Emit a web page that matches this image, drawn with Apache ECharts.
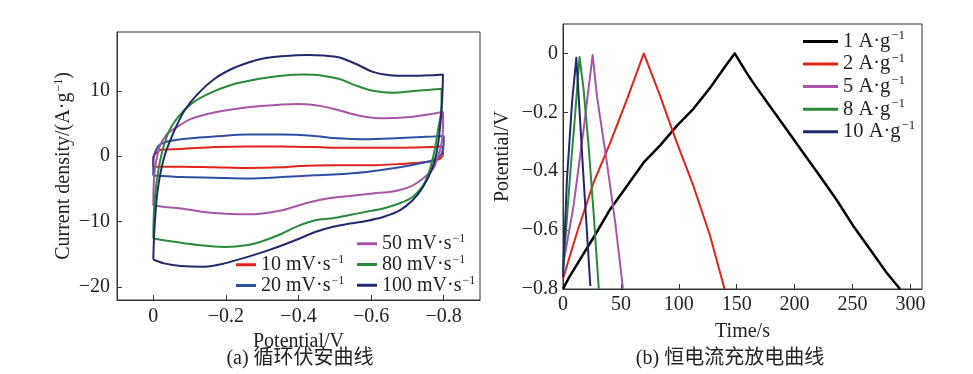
<!DOCTYPE html>
<html><head><meta charset="utf-8">
<script src="https://cdn.jsdelivr.net/npm/echarts@6/dist/echarts.min.js"></script>
<style>html,body{margin:0;padding:0;background:#fff}#c{width:973px;height:374px}</style>
</head><body><div id="c"></div>
<script>
// ---- (a) cyclic voltammetry: [potential V, current density A/g]
const cv10 = [[0,-1.6],[0,-0.15],[-0.007,0.45],[-0.021,1.0],[-0.076,1.1],[-0.168,1.4],[-0.26,1.5],[-0.352,1.5],[-0.444,1.4],[-0.495,1.3],[-0.587,1.3],[-0.679,1.3],[-0.77,1.4],[-0.796,1.5],
  [-0.798,0.35],[-0.789,-0.4],[-0.752,-0.9],[-0.679,-1.2],[-0.587,-1.4],[-0.495,-1.4],[-0.403,-1.5],[-0.352,-1.7],[-0.26,-1.8],[-0.168,-1.7],[-0.076,-1.6],[-0.012,-1.6],[0,-1.6]];
const cv20 = [[0,-3.0],[0,-0.65],[-0.012,1.4],[-0.03,2.1],[-0.076,2.6],[-0.168,3.0],[-0.26,3.3],[-0.352,3.3],[-0.444,3.1],[-0.495,2.8],[-0.587,2.6],[-0.679,2.8],[-0.77,3.0],[-0.8,3.1],
  [-0.8,1.9],[-0.794,0.35],[-0.78,-0.4],[-0.752,-0.9],[-0.679,-1.7],[-0.587,-2.4],[-0.495,-2.8],[-0.444,-2.9],[-0.352,-3.2],[-0.26,-3.4],[-0.168,-3.3],[-0.076,-3.2],[-0.012,-3.0],[0,-3.0]];
const cv50 = [[0,-7.5],[-0.003,-2.7],[-0.017,1.4],[-0.035,3.2],[-0.058,4.2],[-0.104,5.7],[-0.168,6.7],[-0.26,7.5],[-0.352,7.9],[-0.403,8.0],[-0.458,7.7],[-0.513,7.0],[-0.568,6.2],[-0.633,5.8],[-0.706,6.0],[-0.77,6.5],[-0.798,6.8],
  [-0.798,4.4],[-0.794,1.9],[-0.784,-0.15],[-0.771,-1.9],[-0.743,-3.4],[-0.706,-4.7],[-0.66,-5.4],[-0.605,-5.7],[-0.541,-6.1],[-0.476,-6.5],[-0.420,-7.2],[-0.352,-8.3],[-0.26,-8.9],[-0.168,-8.7],[-0.076,-8.0],[-0.021,-7.7],[0,-7.5]];
const cv80 = [[0,-12.6],[-0.003,-7.2],[-0.017,-1.2],[-0.04,3.4],[-0.067,5.9],[-0.104,8.0],[-0.15,9.5],[-0.214,10.9],[-0.288,11.8],[-0.352,12.3],[-0.415,12.5],[-0.458,12.4],[-0.513,11.8],[-0.559,10.8],[-0.605,10.0],[-0.66,9.7],[-0.725,10.0],[-0.794,10.3],
  [-0.794,7.5],[-0.784,3.9],[-0.775,0.9],[-0.761,-2.2],[-0.743,-4.5],[-0.715,-6.2],[-0.679,-7.2],[-0.633,-8.0],[-0.587,-8.5],[-0.541,-9.0],[-0.495,-9.5],[-0.446,-9.8],[-0.398,-10.7],[-0.352,-11.9],[-0.306,-12.9],[-0.26,-13.6],[-0.196,-13.9],[-0.122,-13.6],[-0.058,-13.1],[0,-12.6]];
const cv100 = [[0,-15.8],[-0.003,-11.3],[-0.012,-5.2],[-0.03,-0.15],[-0.058,3.9],[-0.086,7.0],[-0.122,9.5],[-0.168,11.8],[-0.214,13.3],[-0.26,14.3],[-0.306,15.0],[-0.352,15.3],[-0.426,15.5],[-0.470,15.4],[-0.513,15.1],[-0.559,14.1],[-0.605,12.9],[-0.651,12.4],[-0.706,12.3],[-0.77,12.4],[-0.798,12.5],
  [-0.796,9.0],[-0.789,3.9],[-0.78,0.4],[-0.766,-2.2],[-0.743,-4.7],[-0.715,-6.7],[-0.679,-8.3],[-0.633,-9.3],[-0.587,-9.9],[-0.541,-10.3],[-0.495,-10.8],[-0.446,-11.6],[-0.398,-12.7],[-0.352,-13.7],[-0.306,-14.6],[-0.26,-15.4],[-0.196,-16.4],[-0.141,-16.9],[-0.076,-16.8],[-0.03,-16.4],[0,-15.8]];
const cvNames = ['10 mV·s','20 mV·s','50 mV·s','80 mV·s','100 mV·s'];
const cvXTicks = [0,-0.2,-0.4,-0.6,-0.8];
const cvYTicks = [-20,-10,0,10];

// ---- (b) galvanostatic charge/discharge: [time s, potential V]
const gcd1 = [[0,-0.8],[5,-0.762],[15,-0.698],[26.4,-0.625],[40.8,-0.529],[55.2,-0.45],[69.5,-0.371],[83.9,-0.312],[98.3,-0.246],[112.6,-0.188],[127,-0.117],[141.4,-0.037],[148.3,0],
  [158.6,-0.066],[164.3,-0.1],[178.7,-0.179],[193.1,-0.258],[207.4,-0.337],[221.8,-0.416],[236.2,-0.497],[250.5,-0.585],[264.9,-0.664],[279.3,-0.744],[291,-0.8]];
const gcd2 = [[0,-0.765],[12.1,-0.608],[26.4,-0.439],[40.8,-0.303],[55.2,-0.156],[69.8,0],[83.9,-0.145],[98.3,-0.303],[112.6,-0.45],[127,-0.619],[139.5,-0.8]];
const gcd5 = [[0,-0.72],[9.1,-0.518],[17.8,-0.258],[25.6,-0.005],[29.3,-0.145],[37.9,-0.371],[45.1,-0.574],[51.8,-0.8]];
const gcd8 = [[0,-0.74],[6.3,-0.405],[10.6,-0.201],[14.3,-0.012],[17.8,-0.122],[22.1,-0.314],[26.4,-0.54],[30.9,-0.8]];
const gcd10 = [[0,-0.76],[3.4,-0.427],[7.8,-0.167],[11.5,-0.015],[13.5,-0.145],[17.8,-0.427],[23.6,-0.79]];
const gcdNames = ['1 A·g','2 A·g','5 A·g','8 A·g','10 A·g'];
const gcdXTicks = [0,50,100,150,200,250,300];
const gcdYTicks = [-0.8,-0.6,-0.4,-0.2,0];

const FONT = "'Liberation Serif', 'Noto Sans CJK SC', serif";
const cvColors = ['#e2231a','#2d4fa3','#a855a6','#2a8a3c','#1f2a6b'];
const gcdColors = ['#000000','#e2231a','#a855a6','#2a8a3c','#1f2a6b'];
const fmt = v => v < 0 ? '−' + String(Math.abs(v)) : String(v);

const chart = echarts.init(document.getElementById('c'), null, {renderer: 'canvas'});

function axisCommon(ticks, name, extra) {
  return Object.assign({
    type: 'value',
    name: name,
    nameLocation: 'middle',
    nameTextStyle: {fontFamily: FONT, fontSize: 20, color: '#222'},
    axisLine: {show: true, onZero: false, lineStyle: {color: '#333', width: 1}},
    axisTick: {show: true, inside: true, length: 5, customValues: ticks, lineStyle: {color: '#333'}},
    axisLabel: {customValues: ticks, formatter: fmt, fontFamily: FONT, fontSize: 20, color: '#222'},
    splitLine: {show: false}
  }, extra);
}

const supRich = (fs, lh) => ({
  a: {fontFamily: FONT, fontSize: fs, color: '#222', lineHeight: lh},
  s: {fontFamily: FONT, fontSize: Math.round(fs * 0.62), color: '#222', verticalAlign: 'top', lineHeight: lh * 0.6, padding: [0, 0, 0, 1]}
});

const cvData = [cv10, cv20, cv50, cv80, cv100];
const gcdData = [gcd1, gcd2, gcd5, gcd8, gcd10];

const series = [];
cvData.forEach((d, i) => series.push({
  type: 'line', name: cvNames[i], xAxisIndex: 0, yAxisIndex: 0, data: d,
  showSymbol: false, smooth: 0.3, lineStyle: {width: 2, color: cvColors[i]}, itemStyle: {color: cvColors[i]}
}));
gcdData.forEach((d, i) => series.push({
  type: 'line', name: gcdNames[i], xAxisIndex: 1, yAxisIndex: 1, data: d,
  showSymbol: false, smooth: false, lineStyle: {width: i === 0 ? 2.5 : 2, color: gcdColors[i], join: 'round'}, itemStyle: {color: gcdColors[i]}
}));

const legFmt = n => '{a|' + n + '}{s|−1}';

chart.setOption({
  animation: false,
  backgroundColor: '#fff',
  grid: [
    {left: 117, top: 32, width: 363, height: 268, show: true, borderColor: '#333', borderWidth: 1},
    {left: 563, top: 24, width: 359, height: 265, show: true, borderColor: '#333', borderWidth: 1}
  ],
  xAxis: [
    axisCommon(cvXTicks, 'Potential/V', {gridIndex: 0, min: -0.9, max: 0.1, inverse: true, nameGap: 22,
      axisLabel: {customValues: cvXTicks, formatter: fmt, fontFamily: FONT, fontSize: 20, color: '#222', margin: 7}}),
    axisCommon(gcdXTicks, 'Time/s', {gridIndex: 1, min: 0, max: 310, nameGap: 33,
      axisLabel: {customValues: gcdXTicks, formatter: fmt, fontFamily: FONT, fontSize: 20, color: '#222', margin: 6}})
  ],
  yAxis: [
    axisCommon(cvYTicks, '{a|Current density/(A·g}{s|−1}{a|)}', {gridIndex: 0, min: -22, max: 19, nameGap: 42, nameRotate: 90,
      nameTextStyle: {rich: supRich(20, 22)},
      axisLabel: {customValues: cvYTicks, formatter: fmt, fontFamily: FONT, fontSize: 20, color: '#222', margin: 7}}),
    axisCommon(gcdYTicks, 'Potential/V', {gridIndex: 1, min: -0.8, max: 0.1, nameGap: 50, nameRotate: 90,
      axisLabel: {customValues: gcdYTicks, formatter: fmt, fontFamily: FONT, fontSize: 20, color: '#222', margin: 5}})
  ],
  legend: [
    {data: cvNames.slice(0, 2), left: 236, top: 254, orient: 'vertical', itemGap: 0, itemWidth: 20, itemHeight: 3, icon: 'rect',
      selectedMode: false, formatter: legFmt, textStyle: {rich: supRich(20, 21.5)}, padding: 0},
    {data: cvNames.slice(2), left: 357, top: 233, orient: 'vertical', itemGap: 0, itemWidth: 20, itemHeight: 3, icon: 'rect',
      selectedMode: false, formatter: legFmt, textStyle: {rich: supRich(20, 21.5)}, padding: 0},
    {data: gcdNames, left: 803, top: 29, orient: 'vertical', itemGap: 0, itemWidth: 35, itemHeight: 3, icon: 'rect',
      selectedMode: false, formatter: legFmt, textStyle: {rich: supRich(20.5, 24.75)}, padding: 0}
  ],
  graphic: [
    {type: 'text', x: 300, y: 359, style: {text: '(a) 循环伏安曲线', font: '20px ' + FONT, fill: '#222', textAlign: 'center', textVerticalAlign: 'middle'}},
    {type: 'text', x: 730, y: 359, style: {text: '(b) 恒电流充放电曲线', font: '20px ' + FONT, fill: '#222', textAlign: 'center', textVerticalAlign: 'middle'}}
  ],
  series: series
});
</script></body></html>
